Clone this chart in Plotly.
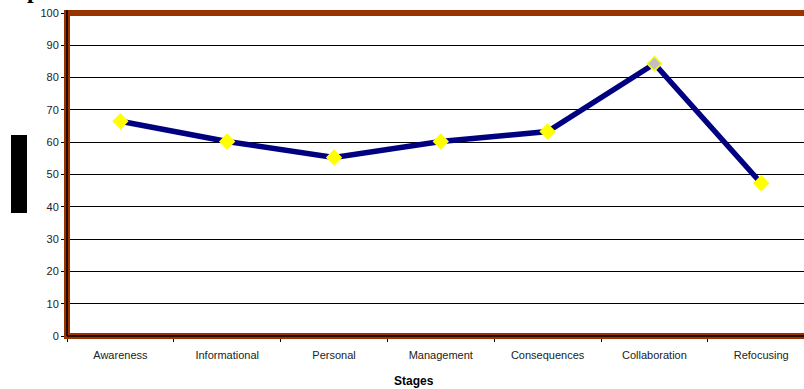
import plotly.graph_objects as go

stages = ["Awareness", "Informational", "Personal", "Management",
          "Consequences", "Collaboration", "Refocusing"]
scores = [66.5, 60.2, 55.3, 60.2, 63.3, 84.3, 47.3]
marker_fill = ["#FFFF00", "#FFFF00", "#FFFF00", "#FFFF00", "#FFFF00", "#C0C0C0", "#FFFF00"]
y_ticks = [0, 10, 20, 30, 40, 50, 60, 70, 80, 90, 100]

W, H = 804, 389
ML, MT, MB, MR = 67, 13, 53, 0
pw, ph = W - ML - MR, H - MT - MB
cat_px = 106.8

def px_x(x):
    return (x - ML) / pw

def px_y(y):
    return (H - MB - y) / ph

fig = go.Figure()
fig.add_trace(go.Scatter(
    x=stages, y=scores, mode="lines+markers",
    line=dict(color="#000080", width=5.5),
    marker=dict(symbol="diamond", size=11, color=marker_fill,
                line=dict(color="#FFFF00", width=1.5)),
    showlegend=False, hoverinfo="skip",
))

brown = "#993300"
shapes = [
    # brown frame
    dict(type="line", xref="paper", yref="paper", x0=0, x1=1.05, y0=1, y1=1,
         line=dict(color=brown, width=6)),
    dict(type="line", xref="paper", yref="paper", x0=0, x1=0, y0=-0.009, y1=1.009,
         line=dict(color=brown, width=6)),
    dict(type="line", xref="paper", yref="paper", x0=-0.004, x1=1.05, y0=0, y1=0,
         line=dict(color=brown, width=6)),
    # black axis lines
    dict(type="line", xref="paper", yref="paper", x0=0, x1=0, y0=0, y1=1.009,
         line=dict(color="black", width=1.5)),
    dict(type="line", xref="paper", yref="paper", x0=0, x1=1.05, y0=0, y1=0,
         line=dict(color="black", width=1.5)),
    # black box (y-axis title block)
    dict(type="rect", xref="paper", yref="paper",
         x0=px_x(11), x1=px_x(27), y0=px_y(213), y1=px_y(135),
         fillcolor="black", line=dict(width=0)),
]

annotations = [
    dict(text="<b>Stages</b>", xref="paper", yref="paper",
         x=px_x(414), y=px_y(381), xanchor="center", yanchor="middle",
         showarrow=False, font=dict(family="Arial, Liberation Sans", size=12, color="black")),
    dict(text="<b>p</b>", xref="paper", yref="paper",
         x=px_x(25), y=1 + (MT + 10) / ph, xanchor="left", yanchor="middle",
         showarrow=False, font=dict(family="Times New Roman, Liberation Serif", size=24, color="black")),
]

fig.update_layout(
    width=W, height=H,
    margin=dict(l=ML, r=MR, t=MT, b=MB, pad=0),
    paper_bgcolor="white", plot_bgcolor="white",
    shapes=shapes, annotations=annotations,
    xaxis=dict(
        type="category", range=[-0.5, -0.5 + pw / cat_px],
        tickson="boundaries", ticks="outside", ticklen=5, tickcolor="black", tickwidth=1,
        showgrid=False, showline=False, zeroline=False,
        tickfont=dict(family="Arial, Liberation Sans", size=11, color="#222"),
        ticklabelstandoff=11,
    ),
    yaxis=dict(
        range=[0, 100], tickvals=y_ticks, ticks="outside", ticklen=5,
        tickcolor="black", tickwidth=1,
        showgrid=True, gridcolor="black", gridwidth=1,
        showline=False, zeroline=False,
        tickfont=dict(family="Arial, Liberation Sans", size=11, color="#222"),
    ),
)

fig.write_html("out.html")
